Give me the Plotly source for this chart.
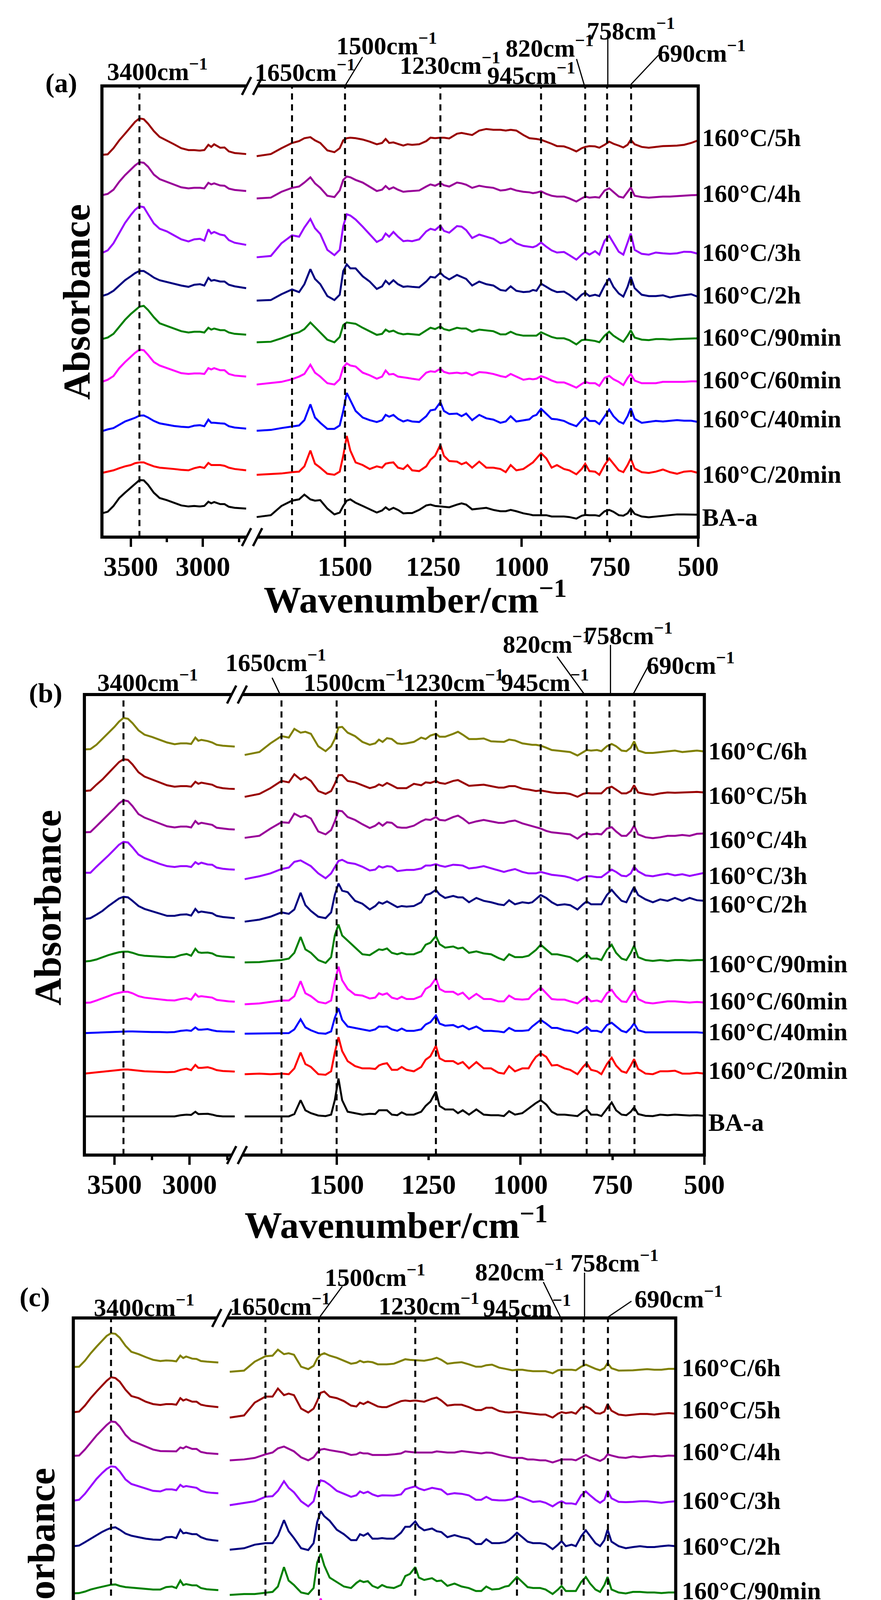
import plotly.graph_objects as go

W, H = 2255, 4805
FONT = "Liberation Serif, Times New Roman, serif"

# ---------------- data ----------------
WN_LEFT = [3700, 3660, 3620, 3580, 3540, 3500, 3470, 3440, 3410, 3380, 3340, 3300, 3250, 3200,
           3150, 3100, 3060, 3020, 2990, 2962, 2942, 2922, 2880, 2850, 2820, 2780, 2740, 2700]
WN_RIGHT = [1750, 1710, 1680, 1650, 1630, 1615, 1598, 1585, 1570, 1550,
            1530, 1515, 1505, 1495, 1485, 1470, 1450, 1430, 1410, 1395,
            1385, 1375, 1363, 1350, 1335, 1323, 1310, 1290, 1270, 1258,
            1245, 1230, 1220, 1205, 1183, 1170, 1157, 1140, 1120, 1100,
            1080, 1060, 1045, 1031, 1015, 995, 978, 968, 958, 945,
            930, 915, 900, 880, 865, 845, 830, 820, 808, 792,
            780, 765, 752, 740, 725, 712, 700, 691, 680, 660,
            640, 620, 600, 580, 560, 540, 520, 500]

PEAKS = [3440, 1650, 1500, 1230, 945, 820, 758, 690]
PEAK_TEXT = ["3400", "1650", "1500", "1230", "945", "820", "758", "690"]

LEFT_MAJOR = [3500, 3000]
LEFT_MINOR = [3250, 2750]
RIGHT_MAJOR = [1500, 1000, 500]
RIGHT_MINOR = [1250, 750]

SAMPLES = ["BA-a", "160°C/20min", "160°C/40min", "160°C/60min", "160°C/90min",
           "160°C/2h", "160°C/3h", "160°C/4h", "160°C/5h", "160°C/6h"]
COLORS = ["#000000", "#FF0000", "#0000FF", "#FF00FF", "#008000",
          "#000080", "#9900FF", "#990099", "#990000", "#808000"]

# ----- panel (a) -----
A_BA_L = [82, 88, 110, 140, 160, 180, 195, 208, 207, 190, 160, 140, 132, 122, 112, 108, 110, 108, 110, 126, 120, 125, 117, 117, 107, 103, 102, 100]
A_20_L = [235, 240, 245, 253, 260, 265, 272, 275, 275, 268, 260, 255, 253, 250, 247, 245, 253, 258, 254, 273, 265, 265, 265, 262, 255, 250, 248, 245]
A_40_L = [393, 400, 405, 418, 430, 438, 444, 452, 453, 445, 432, 423, 418, 413, 410, 408, 414, 416, 412, 437, 425, 425, 423, 422, 412, 407, 405, 403]
A_60_L = [580, 588, 602, 632, 655, 675, 690, 702, 700, 682, 655, 642, 632, 622, 613, 610, 612, 612, 610, 632, 627, 632, 624, 624, 610, 604, 602, 600]
A_90_L = [742, 748, 762, 790, 815, 837, 852, 865, 868, 852, 825, 802, 792, 782, 772, 767, 770, 770, 767, 785, 778, 782, 776, 776, 767, 762, 760, 759]
A_2H_L = [905, 912, 925, 945, 965, 980, 992, 1000, 1000, 990, 975, 965, 958, 952, 945, 940, 948, 950, 945, 974, 963, 966, 960, 960, 948, 942, 939, 935]
A_3H_L = [1068, 1078, 1105, 1145, 1182, 1212, 1232, 1245, 1242, 1215, 1180, 1160, 1150, 1135, 1120, 1112, 1120, 1122, 1115, 1158, 1142, 1148, 1138, 1135, 1117, 1107, 1103, 1099]
A_4H_L = [1287, 1292, 1308, 1338, 1363, 1385, 1400, 1412, 1410, 1395, 1365, 1348, 1338, 1327, 1317, 1313, 1315, 1315, 1313, 1334, 1328, 1332, 1324, 1323, 1312, 1307, 1305, 1303]
A_5H_L = [1440, 1442, 1465, 1495, 1520, 1545, 1565, 1578, 1575, 1558, 1530, 1508, 1495, 1480, 1465, 1458, 1458, 1456, 1458, 1478, 1470, 1480, 1467, 1468, 1453, 1447, 1445, 1443]

A_BA_R = [68, 75, 110, 130, 135, 153, 135, 130, 132, 100, 78, 85, 110, 130, 135, 122, 110, 98, 85, 93,
          105, 95, 103, 95, 82, 83, 83, 95, 112, 115, 110, 108, 107, 105, 115, 120, 115, 97, 100, 103,
          95, 90, 90, 95, 90, 82, 78, 75, 75, 75, 75, 70, 70, 70, 68, 62, 73, 76, 75, 75,
          72, 90, 95, 88, 75, 73, 82, 100, 80, 70, 67, 70, 72, 75, 78, 78, 77, 77]
A_20_R = [228, 230, 233, 238, 240, 260, 320, 270, 255, 232, 228, 240, 300, 375, 320, 275, 265, 250, 260, 255,
          270, 273, 275, 255, 250, 265, 245, 242, 260, 285, 300, 342, 300, 280, 278, 268, 275, 255, 278, 255,
          255, 250, 238, 265, 245, 250, 265, 275, 290, 310, 290, 255, 265, 250, 245, 230, 250, 270, 242, 240,
          228, 265, 290, 270, 245, 238, 265, 290, 252, 238, 235, 240, 248, 238, 232, 240, 242, 235]
A_40_R = [395, 398, 405, 410, 415, 435, 495, 445, 425, 402, 402, 415, 470, 538, 510, 470, 445, 435, 428, 435,
          455, 448, 455, 440, 430, 435, 430, 428, 450, 472, 475, 503, 470, 458, 460, 450, 460, 435, 455, 442,
          437, 425, 430, 450, 430, 435, 438, 450, 455, 478, 460, 440, 438, 432, 422, 412, 435, 447, 432, 432,
          420, 450, 475, 450, 430, 422, 450, 480, 440, 425, 428, 432, 430, 432, 435, 433, 433, 428]
A_60_R = [570, 575, 580, 590, 600, 610, 645, 615, 600, 575, 570, 590, 635, 650, 642, 638, 615, 605, 592, 600,
          623, 608, 610, 600, 598, 595, 592, 588, 615, 620, 618, 630, 618, 612, 615, 612, 615, 605, 617, 615,
          610, 602, 598, 610, 600, 588, 592, 590, 592, 602, 595, 585, 578, 578, 570, 558, 572, 580, 575, 575,
          565, 595, 603, 590, 580, 568, 595, 610, 585, 575, 575, 575, 580, 580, 580, 580, 582, 582]
A_90_R = [730, 732, 745, 760, 768, 780, 805, 788, 768, 740, 730, 750, 795, 805, 803, 800, 785, 772, 758, 762,
          778, 770, 774, 765, 760, 762, 760, 758, 775, 785, 780, 790, 780, 775, 785, 782, 782, 770, 778, 775,
          772, 760, 760, 770, 760, 755, 755, 755, 755, 768, 758, 750, 745, 745, 738, 722, 738, 740, 738, 735,
          730, 755, 770, 755, 742, 732, 755, 775, 748, 740, 738, 742, 742, 740, 742, 743, 744, 745]
A_2H_R = [888, 890, 912, 930, 920, 950, 1007, 970, 950, 905, 890, 910, 1000, 1025, 1010, 1010, 980, 960, 932, 942,
          963, 950, 965, 950, 940, 942, 940, 938, 960, 978, 975, 993, 980, 968, 985, 978, 970, 945, 960, 950,
          945, 928, 925, 942, 925, 920, 922, 928, 925, 952, 940, 928, 920, 922, 910, 890, 910, 918, 905, 910,
          905, 945, 972, 940, 915, 903, 940, 978, 935, 910, 905, 905, 908, 900, 905, 908, 912, 902]
A_3H_R = [1052, 1057, 1105, 1135, 1130, 1165, 1197, 1162, 1140, 1080, 1060, 1080, 1170, 1215, 1210, 1195, 1168, 1140, 1110, 1120,
          1142, 1130, 1148, 1130, 1113, 1115, 1113, 1120, 1150, 1160, 1155, 1172, 1152, 1145, 1170, 1168, 1155, 1125, 1138, 1130,
          1122, 1105, 1110, 1122, 1105, 1095, 1092, 1090, 1095, 1108, 1092, 1078, 1070, 1072, 1060, 1043, 1062, 1072, 1062, 1075,
          1062, 1115, 1133, 1105, 1073, 1062, 1105, 1142, 1080, 1065, 1062, 1070, 1067, 1065, 1067, 1073, 1072, 1065]
A_4H_R = [1275, 1278, 1300, 1315, 1320, 1335, 1355, 1332, 1315, 1285, 1280, 1305, 1345, 1358, 1355, 1345, 1335, 1320, 1303, 1308,
          1322, 1310, 1317, 1308, 1300, 1302, 1303, 1305, 1320, 1328, 1323, 1333, 1325, 1320, 1335, 1332, 1327, 1315, 1323, 1318,
          1315, 1305, 1307, 1312, 1305, 1300, 1298, 1295, 1297, 1302, 1292, 1285, 1282, 1282, 1275, 1263, 1275, 1282, 1278, 1280,
          1278, 1305, 1313, 1300, 1282, 1278, 1300, 1316, 1285, 1280, 1278, 1280, 1282, 1282, 1284, 1285, 1287, 1288]
A_5H_R = [1435, 1443, 1465, 1485, 1492, 1503, 1507, 1495, 1485, 1457, 1450, 1465, 1495, 1503, 1505, 1503, 1498, 1490, 1480, 1485,
          1500, 1485, 1487, 1482, 1475, 1480, 1478, 1480, 1492, 1505, 1503, 1505, 1505, 1502, 1520, 1523, 1520, 1515, 1532, 1538,
          1535, 1535, 1532, 1535, 1532, 1515, 1503, 1502, 1500, 1497, 1490, 1482, 1473, 1472, 1465, 1453, 1465, 1470, 1473, 1472,
          1467, 1478, 1490, 1482, 1475, 1468, 1478, 1497, 1480, 1470, 1467, 1470, 1473, 1474, 1475, 1478, 1485, 1495]
A_LABEL_Y = [67, 229, 440, 588, 749, 909, 1070, 1294, 1505]

# ----- panel (b) -----
B_BA_L = [154, 154, 154, 154, 154, 154, 154, 154, 154, 154, 154, 154, 154, 154, 154, 154, 158, 160, 159, 170, 162, 162, 163, 160, 156, 154, 154, 154]
B_20_L = [302, 304, 306, 308, 311, 313, 315, 316, 316, 314, 312, 310, 309, 308, 307, 308, 315, 319, 314, 332, 322, 322, 324, 320, 314, 311, 310, 309]
B_40_L = [442, 443, 444, 445, 446, 447, 448, 448, 448, 448, 447, 447, 446, 446, 445, 446, 450, 452, 450, 462, 454, 454, 456, 452, 449, 448, 447, 447]
B_60_L = [547, 548, 555, 562, 570, 578, 582, 585, 585, 580, 570, 565, 562, 559, 556, 555, 560, 563, 558, 578, 568, 570, 567, 565, 557, 554, 552, 551]
B_90_L = [690, 692, 697, 705, 712, 718, 722, 724, 724, 720, 713, 710, 708, 707, 705, 705, 712, 716, 710, 734, 722, 720, 721, 718, 710, 707, 705, 704]
B_2H_L = [837, 840, 852, 865, 882, 898, 908, 914, 912, 900, 882, 872, 864, 856, 848, 848, 852, 853, 849, 872, 860, 863, 860, 857, 848, 844, 842, 840]
B_3H_L = [997, 997, 1018, 1037, 1057, 1078, 1094, 1104, 1102, 1085, 1060, 1048, 1038, 1028, 1020, 1017, 1020, 1020, 1017, 1034, 1027, 1032, 1026, 1025, 1015, 1011, 1009, 1008]
B_4H_L = [1137, 1138, 1158, 1178, 1200, 1220, 1237, 1248, 1245, 1228, 1200, 1188, 1178, 1168, 1158, 1154, 1157, 1157, 1154, 1176, 1166, 1170, 1165, 1163, 1153, 1150, 1148, 1147]
B_5H_L = [1280, 1282, 1302, 1320, 1342, 1365, 1380, 1390, 1388, 1372, 1345, 1330, 1320, 1310, 1300, 1295, 1297, 1297, 1295, 1312, 1305, 1309, 1304, 1302, 1294, 1290, 1288, 1287]
B_6H_L = [1424, 1425, 1440, 1460, 1482, 1502, 1520, 1533, 1530, 1515, 1490, 1475, 1467, 1458, 1448, 1442, 1445, 1445, 1443, 1465, 1454, 1457, 1453, 1448, 1440, 1437, 1435, 1434]

B_BA_R = [154, 154, 154, 154, 154, 162, 210, 175, 165, 157, 155, 160, 210, 285, 210, 170, 165, 160, 163, 162,
          175, 175, 175, 160, 158, 168, 160, 160, 170, 190, 205, 240, 190, 178, 178, 165, 175, 160, 178, 160,
          158, 158, 155, 172, 160, 165, 182, 190, 200, 210, 195, 170, 160, 160, 158, 155, 170, 178, 160, 160,
          155, 180, 202, 175, 160, 158, 170, 185, 162, 156, 155, 160, 158, 160, 158, 157, 158, 156]
B_20_R = [300, 302, 300, 302, 300, 320, 375, 335, 325, 300, 298, 310, 375, 428, 380, 345, 328, 320, 320, 318,
          330, 335, 338, 315, 315, 325, 315, 310, 325, 350, 362, 398, 355, 345, 345, 335, 342, 320, 342, 320,
          320, 305, 302, 328, 310, 320, 320, 342, 360, 372, 360, 330, 332, 320, 315, 300, 325, 338, 315, 310,
          300, 335, 357, 330, 310, 305, 330, 352, 318, 302, 300, 310, 310, 312, 302, 302, 305, 302]
B_40_R = [440, 441, 442, 443, 442, 455, 490, 462, 452, 442, 440, 448, 495, 528, 488, 465, 460, 455, 450, 455,
          465, 464, 465, 455, 450, 458, 450, 450, 455, 472, 480, 503, 475, 468, 470, 462, 468, 455, 465, 450,
          450, 448, 445, 460, 450, 450, 452, 465, 475, 488, 475, 460, 460, 452, 450, 442, 455, 464, 450, 450,
          445, 470, 478, 465, 450, 445, 460, 476, 452, 445, 445, 445, 445, 445, 445, 445, 445, 443]
B_60_R = [542, 545, 550, 555, 555, 570, 622, 580, 570, 550, 545, 555, 620, 672, 625, 595, 575, 572, 562, 565,
          580, 575, 580, 565, 560, 568, 560, 560, 570, 595, 605, 632, 595, 585, 585, 575, 582, 560, 578, 560,
          560, 552, 552, 572, 560, 558, 560, 575, 585, 600, 580, 560, 558, 558, 552, 545, 560, 568, 552, 555,
          550, 580, 592, 570, 552, 550, 575, 592, 560, 548, 545, 548, 552, 552, 550, 548, 550, 548]
B_90_R = [687, 688, 692, 695, 700, 720, 775, 732, 720, 695, 685, 705, 780, 818, 780, 762, 738, 715, 712, 725,
          732, 730, 735, 720, 715, 720, 715, 715, 725, 748, 755, 778, 750, 738, 742, 735, 738, 720, 725, 718,
          715, 702, 695, 715, 705, 705, 710, 720, 730, 748, 732, 715, 715, 710, 705, 690, 705, 715, 700, 700,
          695, 730, 748, 720, 700, 695, 720, 745, 705, 695, 692, 695, 692, 695, 695, 693, 695, 695]
B_2H_R = [828, 835, 845, 860, 855, 870, 928, 885, 865, 845, 840, 860, 920, 960, 935, 930, 900, 890, 870, 882,
          895, 890, 898, 888, 878, 882, 880, 882, 895, 920, 925, 938, 922, 910, 917, 912, 912, 895, 910, 900,
          895, 888, 885, 902, 888, 895, 892, 895, 905, 920, 910, 895, 885, 888, 885, 870, 888, 898, 888, 888,
          888, 920, 938, 920, 900, 895, 925, 948, 920, 905, 895, 905, 900, 910, 900, 910, 902, 900]
B_3H_R = [975, 985, 995, 1010, 1015, 1035, 1040, 1030, 1020, 995, 978, 995, 1015, 1038, 1042, 1032, 1028, 1018, 1005, 1008,
          1020, 1015, 1020, 1018, 1003, 1005, 1007, 1007, 1012, 1022, 1022, 1027, 1022, 1018, 1025, 1024, 1022, 1012, 1015, 1020,
          1013, 1005, 1000, 1005, 1010, 1000, 995, 995, 995, 1000, 995, 990, 988, 985, 980, 970, 980, 985, 985, 982,
          982, 995, 1008, 1000, 987, 985, 995, 1018, 1002, 988, 985, 990, 994, 988, 992, 986, 992, 997]
B_4H_R = [1118, 1125, 1150, 1172, 1170, 1202, 1190, 1195, 1185, 1140, 1130, 1145, 1175, 1212, 1210, 1190, 1180, 1165, 1152, 1160,
          1170, 1160, 1172, 1170, 1155, 1153, 1153, 1160, 1175, 1182, 1180, 1190, 1180, 1178, 1190, 1195, 1185, 1168, 1175, 1180,
          1175, 1170, 1170, 1175, 1178, 1168, 1162, 1158, 1155, 1150, 1142, 1137, 1135, 1132, 1130, 1115, 1130, 1133, 1130, 1132,
          1130, 1150, 1155, 1140, 1125, 1125, 1140, 1160, 1130, 1120, 1117, 1120, 1125, 1125, 1128, 1125, 1132, 1133]
B_5H_R = [1260, 1270, 1290, 1315, 1310, 1338, 1320, 1328, 1315, 1280, 1270, 1280, 1305, 1335, 1335, 1315, 1310, 1300, 1290, 1295,
          1303, 1298, 1308, 1300, 1290, 1290, 1290, 1305, 1300, 1310, 1308, 1315, 1308, 1305, 1315, 1318, 1310, 1298, 1300, 1302,
          1297, 1292, 1292, 1297, 1297, 1288, 1285, 1282, 1280, 1282, 1278, 1275, 1273, 1273, 1270, 1260, 1270, 1273, 1272, 1272,
          1272, 1290, 1295, 1285, 1272, 1272, 1280, 1300, 1275, 1270, 1267, 1272, 1275, 1274, 1275, 1277, 1277, 1275]
B_6H_R = [1405, 1415, 1445, 1470, 1465, 1495, 1482, 1485, 1478, 1435, 1418, 1435, 1460, 1500, 1502, 1482, 1470, 1450, 1440, 1445,
          1458, 1450, 1463, 1460, 1445, 1443, 1445, 1450, 1465, 1460, 1472, 1478, 1468, 1468, 1478, 1485, 1475, 1460, 1460, 1462,
          1452, 1450, 1450, 1458, 1455, 1445, 1442, 1440, 1440, 1437, 1430, 1422, 1420, 1417, 1415, 1403, 1415, 1422, 1420, 1422,
          1418, 1435, 1443, 1435, 1420, 1418, 1430, 1452, 1420, 1412, 1412, 1415, 1418, 1420, 1415, 1417, 1420, 1417]
B_LABEL_Y = [133, 313, 447, 554, 682, 889, 988, 1112, 1265, 1418]

# ----- panel (c) -----
C_BA_L = [102, 102, 102, 102, 102, 102, 102, 102, 102, 102, 102, 102, 102, 102, 102, 104, 110, 111, 110, 122, 112, 113, 114, 112, 106, 104, 103, 102]
C_20_L = [263, 264, 272, 280, 288, 296, 302, 306, 307, 300, 288, 282, 279, 276, 273, 273, 280, 284, 280, 302, 292, 295, 292, 292, 278, 274, 273, 272]
C_40_L = [408, 410, 413, 419, 424, 429, 432, 435, 436, 430, 424, 420, 418, 417, 415, 415, 424, 426, 422, 443, 432, 432, 432, 431, 422, 418, 416, 414]
C_60_L = [550, 551, 557, 563, 569, 574, 577, 579, 579, 574, 568, 565, 563, 560, 559, 560, 567, 570, 565, 588, 575, 575, 575, 575, 565, 561, 560, 559]
C_90_L = [697, 698, 703, 710, 715, 720, 723, 726, 727, 722, 718, 716, 714, 712, 710, 710, 718, 720, 715, 740, 725, 728, 724, 724, 715, 711, 709, 708]
C_2H_L = [855, 857, 868, 880, 892, 903, 910, 916, 918, 910, 897, 890, 885, 880, 877, 876, 885, 886, 882, 910, 898, 900, 895, 895, 885, 878, 875, 873]
C_3H_L = [1007, 1010, 1030, 1055, 1080, 1100, 1113, 1122, 1120, 1105, 1078, 1063, 1055, 1047, 1040, 1038, 1045, 1045, 1042, 1060, 1053, 1056, 1052, 1050, 1040, 1035, 1033, 1032]
C_4H_L = [1157, 1158, 1178, 1202, 1225, 1245, 1260, 1272, 1270, 1255, 1227, 1208, 1198, 1188, 1178, 1173, 1173, 1173, 1172, 1185, 1182, 1188, 1180, 1180, 1170, 1166, 1164, 1163]
C_5H_L = [1303, 1305, 1325, 1350, 1372, 1392, 1408, 1420, 1417, 1405, 1378, 1357, 1350, 1338, 1330, 1327, 1330, 1330, 1328, 1350, 1342, 1346, 1338, 1338, 1328, 1324, 1322, 1320]
C_6H_L = [1454, 1455, 1475, 1500, 1522, 1542, 1558, 1567, 1565, 1552, 1525, 1505, 1497, 1487, 1478, 1474, 1476, 1475, 1473, 1492, 1484, 1489, 1482, 1481, 1474, 1472, 1470, 1469]

C_BA_R = [103, 103, 103, 103, 105, 112, 160, 122, 115, 105, 103, 110, 180, 238, 160, 120, 118, 112, 113, 120,
          125, 125, 125, 110, 107, 118, 110, 107, 115, 140, 160, 188, 135, 128, 128, 115, 122, 112, 125, 110,
          108, 105, 104, 122, 110, 112, 120, 135, 142, 160, 142, 115, 122, 110, 107, 105, 120, 128, 110, 110,
          105, 132, 155, 130, 110, 105, 118, 135, 112, 103, 103, 108, 107, 108, 105, 104, 108, 105]
C_20_R = [250, 255, 258, 265, 268, 288, 340, 300, 290, 265, 255, 275, 350, 385, 345, 310, 300, 275, 278, 280,
          295, 298, 300, 280, 272, 285, 275, 270, 285, 310, 325, 355, 315, 305, 305, 290, 300, 278, 295, 275,
          275, 265, 260, 285, 270, 270, 275, 295, 300, 325, 310, 280, 288, 275, 270, 255, 282, 295, 270, 265,
          258, 295, 315, 290, 270, 262, 290, 312, 275, 260, 255, 265, 270, 265, 260, 265, 267, 265]
C_40_R = [400, 402, 402, 408, 410, 430, 482, 440, 430, 410, 402, 420, 500, 532, 490, 450, 435, 425, 422, 435,
          440, 440, 442, 430, 420, 430, 422, 418, 430, 460, 470, 495, 460, 448, 450, 440, 445, 428, 440, 422,
          420, 410, 408, 430, 418, 415, 425, 432, 445, 465, 452, 430, 428, 422, 418, 405, 422, 435, 415, 415,
          410, 440, 458, 435, 415, 410, 435, 458, 420, 410, 408, 412, 415, 410, 408, 410, 412, 408]
C_60_R = [545, 548, 552, 560, 560, 575, 632, 590, 580, 555, 548, 565, 650, 680, 640, 600, 585, 572, 570, 580,
          585, 585, 588, 575, 570, 575, 570, 570, 580, 605, 612, 638, 605, 595, 598, 588, 592, 575, 585, 570,
          565, 555, 552, 570, 558, 560, 570, 578, 590, 608, 595, 575, 570, 565, 560, 548, 565, 575, 560, 558,
          555, 588, 605, 580, 560, 555, 580, 603, 565, 552, 550, 555, 558, 555, 552, 553, 555, 552]
C_90_R = [692, 695, 695, 700, 702, 720, 785, 740, 725, 700, 695, 715, 800, 830, 790, 750, 735, 720, 715, 732,
          740, 735, 738, 722, 715, 725, 718, 715, 725, 755, 762, 785, 750, 742, 748, 738, 740, 722, 730, 720,
          715, 705, 705, 720, 710, 712, 720, 722, 735, 752, 735, 718, 715, 715, 710, 695, 710, 722, 705, 705,
          705, 735, 752, 730, 710, 702, 725, 752, 710, 700, 697, 702, 702, 700, 700, 698, 700, 700]
C_2H_R = [843, 848, 860, 865, 865, 890, 942, 905, 882, 848, 842, 865, 935, 972, 955, 940, 910, 895, 875, 875,
          895, 890, 898, 880, 880, 882, 880, 880, 900, 920, 920, 938, 920, 908, 914, 905, 902, 885, 892, 885,
          880, 862, 862, 878, 865, 865, 868, 875, 885, 900, 885, 870, 865, 865, 862, 845, 860, 872, 855, 860,
          855, 888, 908, 888, 865, 855, 875, 910, 870, 855, 848, 852, 855, 852, 852, 855, 857, 855]
C_3H_R = [992, 1000, 1005, 1020, 1022, 1040, 1072, 1050, 1035, 1005, 988, 1005, 1052, 1075, 1072, 1060, 1040, 1030, 1020, 1025,
          1038, 1032, 1037, 1028, 1022, 1025, 1024, 1024, 1028, 1045, 1050, 1055, 1048, 1042, 1050, 1047, 1044, 1028, 1032, 1030,
          1025, 1010, 1010, 1020, 1010, 1008, 1008, 1010, 1012, 1022, 1017, 1010, 1003, 1005, 1000, 988, 1000, 1005, 998, 998,
          995, 1025, 1038, 1025, 1010, 1000, 1010, 1040, 1015, 1003, 1002, 1003, 1005, 1005, 1002, 1000, 1003, 1005]
C_4H_R = [1142, 1145, 1150, 1162, 1168, 1182, 1188, 1180, 1172, 1152, 1142, 1152, 1168, 1178, 1180, 1176, 1172, 1168, 1160, 1162,
          1168, 1165, 1165, 1160, 1160, 1160, 1160, 1162, 1165, 1172, 1170, 1168, 1168, 1168, 1168, 1172, 1170, 1168, 1168, 1173,
          1170, 1168, 1165, 1168, 1167, 1160, 1155, 1152, 1150, 1150, 1150, 1145, 1145, 1142, 1142, 1135, 1140, 1145, 1145, 1145,
          1142, 1152, 1160, 1152, 1145, 1140, 1148, 1162, 1158, 1152, 1150, 1155, 1152, 1155, 1157, 1155, 1158, 1157]
C_5H_R = [1285, 1292, 1335, 1355, 1355, 1382, 1360, 1365, 1360, 1315, 1302, 1315, 1340, 1368, 1372, 1355, 1350, 1340, 1325, 1322,
          1335, 1330, 1338, 1330, 1322, 1320, 1320, 1330, 1340, 1342, 1340, 1342, 1340, 1338, 1348, 1352, 1342, 1325, 1328, 1328,
          1320, 1310, 1310, 1318, 1318, 1307, 1303, 1302, 1303, 1305, 1302, 1300, 1298, 1295, 1295, 1285, 1298, 1303, 1300, 1303,
          1298, 1318, 1322, 1315, 1300, 1298, 1305, 1330, 1308, 1295, 1292, 1295, 1297, 1297, 1295, 1298, 1300, 1298]
C_6H_R = [1438, 1442, 1472, 1490, 1492, 1512, 1497, 1500, 1495, 1455, 1447, 1458, 1482, 1495, 1500, 1492, 1485, 1475, 1465, 1468,
          1475, 1470, 1472, 1470, 1463, 1463, 1463, 1465, 1475, 1480, 1478, 1477, 1475, 1475, 1480, 1485, 1478, 1465, 1468, 1470,
          1463, 1455, 1455, 1460, 1462, 1452, 1448, 1445, 1443, 1445, 1445, 1442, 1440, 1440, 1440, 1433, 1443, 1445, 1445, 1445,
          1443, 1455, 1462, 1455, 1448, 1443, 1450, 1467, 1450, 1442, 1442, 1443, 1445, 1447, 1445, 1445, 1448, 1448]
C_LABEL_Y = [108, 265, 415, 552, 705, 855, 1007, 1170, 1310, 1451]

A_LEFT = [A_BA_L, A_20_L, A_40_L, A_60_L, A_90_L, A_2H_L, A_3H_L, A_4H_L, A_5H_L]
A_RIGHT = [A_BA_R, A_20_R, A_40_R, A_60_R, A_90_R, A_2H_R, A_3H_R, A_4H_R, A_5H_R]
B_LEFT = [B_BA_L, B_20_L, B_40_L, B_60_L, B_90_L, B_2H_L, B_3H_L, B_4H_L, B_5H_L, B_6H_L]
B_RIGHT = [B_BA_R, B_20_R, B_40_R, B_60_R, B_90_R, B_2H_R, B_3H_R, B_4H_R, B_5H_R, B_6H_R]
C_LEFT = [C_BA_L, C_20_L, C_40_L, C_60_L, C_90_L, C_2H_L, C_3H_L, C_4H_L, C_5H_L, C_6H_L]
C_RIGHT = [C_BA_R, C_20_R, C_40_R, C_60_R, C_90_R, C_2H_R, C_3H_R, C_4H_R, C_5H_R, C_6H_R]

for grp in (A_LEFT, B_LEFT, C_LEFT):
    for s in grp:
        assert len(s) == len(WN_LEFT), len(s)
for grp in (A_RIGHT, B_RIGHT, C_RIGHT):
    for s in grp:
        assert len(s) == len(WN_RIGHT), len(s)

# ---------------- layout geometry (pixels) ----------------
PANELS = [
    dict(left=A_LEFT, right=A_RIGHT, label_y=A_LABEL_Y,
         x0=259, x1=1822, xs=648, top=212, bot=1367,
         lrange=[3700, 2671], rrange=[1768, 500], yrange=[-8, 1701],
         slash=(638, 667), letter="(a)", letter_xy=(153, 205), abs_xy=(193, 765),
         title_xy=(1080, 1521), label_x=1830,
         tops=[(404, 170), (792, 172), (1006, 105), (1172, 155), (1385, 181), (1433, 110), (1646, 66), (1831, 124)],
         leaders=[(896, 212, 942, 138), (1524, 212, 1503, 143), (1585, 212, 1585, 92), (1642, 212, 1718, 133)]),
    dict(left=B_LEFT, right=B_RIGHT, label_y=B_LABEL_Y,
         x0=213, x1=1838, xs=613, top=1770, bot=2949,
         lrange=[3700, 2685], rrange=[1771, 500], yrange=[20, 1614],
         slash=(599, 627), letter="(b)", letter_xy=(112, 1767), abs_xy=(117, 2316),
         title_xy=(1030, 3121), label_x=1846,
         tops=[(379, 1735), (715, 1683), (920, 1735), (1181, 1735), (1420, 1735), (1426, 1637), (1640, 1614), (1802, 1691)],
         leaders=[(726, 1770, 705, 1727), (1524, 1770, 1452, 1673), (1592, 1770, 1592, 1643), (1651, 1770, 1690, 1699)]),
    dict(left=C_LEFT, right=C_RIGHT, label_y=C_LABEL_Y,
         x0=184, x1=1763, xs=580, top=3366, bot=4581,
         lrange=[3700, 2658], rrange=[1765, 500], yrange=[31, 1618],
         slash=(560, 587), letter="(c)", letter_xy=(83, 3312), abs_xy=(100, 4000),
         title_xy=(1057, 4719), label_x=1777,
         tops=[(370, 3334), (726, 3331), (975, 3257), (1116, 3330), (1373, 3335), (1353, 3243), (1603, 3220), (1771, 3312)],
         leaders=[(828, 3366, 889, 3285), (1462, 3366, 1416, 3274), (1524, 3366, 1524, 3250), (1582, 3366, 1647, 3323)]),
]


def px(x):
    return x / W


def py(y):
    return 1 - y / H


def bold(vals):
    return [f"<b>{v}</b>" for v in vals]


fig = go.Figure()
shapes = []
annotations = []
layout_axes = {}

LONG_TICK, SHORT_TICK = 24, 12
STANDOFF = -10
TICK_FONT = dict(family=FONT, size=70, color="black")

for i, p in enumerate(PANELS):
    xl = 2 * i + 1
    xr = 2 * i + 2
    xo = 7 + i
    yi = i + 1
    xl_name = "x" if xl == 1 else f"x{xl}"
    xr_name = f"x{xr}"
    xo_name = f"x{xo}"
    y_name = "y" if yi == 1 else f"y{yi}"

    n = len(p["left"])
    for k in range(n):
        color = COLORS[k]
        fig.add_trace(go.Scatter(x=WN_LEFT, y=p["left"][k], xaxis=xl_name, yaxis=y_name,
                                 mode="lines", line=dict(color=color, width=5),
                                 name=SAMPLES[k], showlegend=False, hoverinfo="skip"))
        fig.add_trace(go.Scatter(x=WN_RIGHT, y=p["right"][k], xaxis=xr_name, yaxis=y_name,
                                 mode="lines", line=dict(color=color, width=5),
                                 name=SAMPLES[k], showlegend=False, hoverinfo="skip"))
        annotations.append(dict(text=f"<b>{SAMPLES[k]}</b>", x=px(p["label_x"]), xref="paper",
                                y=p["label_y"][k], yref=y_name, xanchor="left", yanchor="middle",
                                showarrow=False, font=dict(family=FONT, size=64, color="black")))
    # empty trace so that the overlaid minor-label axis is rendered
    fig.add_trace(go.Scatter(x=[], y=[], xaxis=xo_name, yaxis=y_name, mode="lines",
                             showlegend=False, hoverinfo="skip"))

    axis_common = dict(showgrid=False, zeroline=False, showline=False, ticks="outside",
                       ticklen=LONG_TICK, tickwidth=6, tickcolor="black", ticklabelstandoff=STANDOFF,
                       tickfont=TICK_FONT, fixedrange=True)
    layout_axes["xaxis" if xl == 1 else f"xaxis{xl}"] = dict(
        axis_common, domain=[px(p["x0"]), px(p["xs"])], range=p["lrange"], anchor=y_name,
        tickvals=LEFT_MAJOR, ticktext=bold(LEFT_MAJOR),
        minor=dict(tickvals=LEFT_MINOR, ticks="outside", ticklen=SHORT_TICK, tickwidth=6, tickcolor="black"))
    layout_axes[f"xaxis{xr}"] = dict(
        axis_common, domain=[px(p["xs"]), px(p["x1"])], range=p["rrange"], anchor=y_name,
        tickvals=RIGHT_MAJOR, ticktext=bold(RIGHT_MAJOR))
    layout_axes[f"xaxis{xo}"] = dict(
        axis_common, domain=[px(p["xs"]), px(p["x1"])], range=p["rrange"], anchor=y_name,
        overlaying=xr_name, side="bottom", ticklen=SHORT_TICK,
        ticklabelstandoff=STANDOFF + LONG_TICK - SHORT_TICK,
        tickvals=RIGHT_MINOR, ticktext=bold(RIGHT_MINOR))
    layout_axes["yaxis" if yi == 1 else f"yaxis{yi}"] = dict(
        domain=[py(p["bot"]), py(p["top"])], range=p["yrange"], anchor=xl_name,
        showgrid=False, zeroline=False, showline=False, showticklabels=False, ticks="", fixedrange=True)

    # frame
    lw = 8
    x0, x1, top, bot = p["x0"], p["x1"], p["top"], p["bot"]
    s1, s2 = p["slash"]
    segs = [(x0, top - 4, x0, bot + 4), (x1, top - 4, x1, bot + 4),
            (x0, top, s1, top), (s2, top, x1, top),
            (x0, bot, s1, bot), (s2, bot, x1, bot)]
    for (a, b, c, d) in segs:
        shapes.append(dict(type="line", xref="paper", yref="paper", x0=px(a), y0=py(b), x1=px(c), y1=py(d),
                           line=dict(color="black", width=lw)))
    for yy in (top, bot):
        for s in (s1, s2):
            shapes.append(dict(type="line", xref="paper", yref="paper",
                               x0=px(s - 12), y0=py(yy + 23), x1=px(s + 12), y1=py(yy - 23),
                               line=dict(color="black", width=6)))

    # dashed peak markers
    for wn in PEAKS:
        shapes.append(dict(type="line", xref=xl_name if wn > 2000 else xr_name, yref=f"{y_name} domain",
                           x0=wn, x1=wn, y0=0, y1=1, line=dict(color="black", width=5, dash="16px,12px")))
    # leader lines
    for (a, b, c, d) in p["leaders"]:
        shapes.append(dict(type="line", xref="paper", yref="paper", x0=px(a), y0=py(b), x1=px(c), y1=py(d),
                           line=dict(color="black", width=3)))
    # peak labels
    for txt, (cx, cy) in zip(PEAK_TEXT, p["tops"]):
        annotations.append(dict(text=f"<b>{txt}cm<sup>−1</sup></b>", x=px(cx), y=py(cy), xref="paper", yref="paper",
                                xanchor="center", yanchor="middle", showarrow=False,
                                font=dict(family=FONT, size=64, color="black")))
    annotations.append(dict(text=f"<b>{p['letter']}</b>", x=px(p["letter_xy"][0]), y=py(p["letter_xy"][1]),
                            xref="paper", yref="paper", showarrow=False, xanchor="center", yanchor="middle",
                            font=dict(family=FONT, size=70, color="black")))
    annotations.append(dict(text="<b>Absorbance</b>", x=px(p["abs_xy"][0]), y=py(p["abs_xy"][1]),
                            xref="paper", yref="paper", showarrow=False, textangle=-90,
                            xanchor="center", yanchor="middle",
                            font=dict(family=FONT, size=98, color="black")))
    annotations.append(dict(text="<b>Wavenumber/cm<sup>−1</sup></b>", x=px(p["title_xy"][0]), y=py(p["title_xy"][1]),
                            xref="paper", yref="paper", showarrow=False, xanchor="center", yanchor="middle",
                            font=dict(family=FONT, size=96, color="black")))

fig.update_layout(width=W, height=H, margin=dict(l=0, r=0, t=0, b=0),
                  paper_bgcolor="white", plot_bgcolor="white", showlegend=False,
                  shapes=shapes, annotations=annotations, **layout_axes)

fig.write_html("out.html")
